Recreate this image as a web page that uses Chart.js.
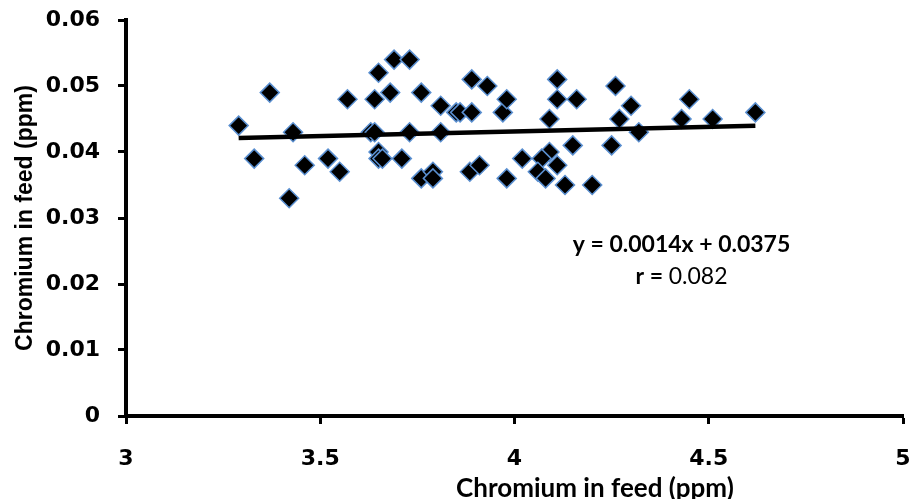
<!DOCTYPE html>
<html>
<head>
<meta charset="utf-8">
<script src="https://cdn.jsdelivr.net/npm/chart.js@4/dist/chart.umd.min.js"></script>
<style>
  html, body { margin: 0; padding: 0; background: #fff; }
  #wrap { width: 914px; height: 499px; }
</style>
</head>
<body>
<div id="wrap"><canvas id="chart"></canvas></div>
<script>
// values
const xValues = [3.29, 3.33, 3.37, 3.42, 3.43, 3.46, 3.52, 3.55, 3.57, 3.63,
    3.64, 3.64, 3.65, 3.65, 3.65, 3.66, 3.68, 3.69, 3.71, 3.73,
    3.73, 3.76, 3.76, 3.79, 3.79, 3.81, 3.81, 3.85, 3.86, 3.89,
    3.89, 3.885, 3.91, 3.93, 3.97, 3.98, 3.98, 4.02, 4.09, 4.07,
    4.06, 4.08, 4.11, 4.09, 4.11, 4.11, 4.15, 4.13, 4.16, 4.20,
    4.25, 4.26, 4.27, 4.30, 4.32, 4.43, 4.45, 4.51, 4.62];
const yValues = [0.044, 0.039, 0.049, 0.033, 0.043, 0.038, 0.039, 0.037, 0.048, 0.043,
    0.043, 0.048, 0.052, 0.040, 0.039, 0.039, 0.049, 0.054, 0.039, 0.054,
    0.043, 0.049, 0.036, 0.037, 0.036, 0.047, 0.043, 0.046, 0.046, 0.046,
    0.051, 0.037, 0.038, 0.050, 0.046, 0.048, 0.036, 0.039, 0.040, 0.039,
    0.037, 0.036, 0.038, 0.045, 0.051, 0.048, 0.041, 0.035, 0.048, 0.035,
    0.041, 0.050, 0.045, 0.047, 0.043, 0.045, 0.048, 0.045, 0.046];
const slope = 0.0014;
const intercept = 0.0375;
const rValue = '0.082';
const xTicks = [3, 3.5, 4, 4.5, 5];
const yTicks = [0, 0.01, 0.02, 0.03, 0.04, 0.05, 0.06];
const axisTitle = 'Chromium in feed (ppm)';

const points = xValues.map((x, i) => ({ x: x, y: yValues[i] }));
const xMin = Math.min(...xValues);
const xMax = Math.max(...xValues);
const trend = [xMin, xMax].map(x => ({ x: x, y: slope * x + intercept }));

const tickFont = { family: 'DejaVu Sans', size: 22, weight: 'bold' };

// x title sits right of centre in the original, and the equation box
const extraText = {
    id: 'extraText',
    afterDraw(chart) {
        const ctx = chart.ctx;
        const xs = chart.scales.x;
        const ys = chart.scales.y;
        ctx.save();
        ctx.fillStyle = '#000';
        ctx.textBaseline = 'middle';
        ctx.textAlign = 'center';
        ctx.font = 'bold 26px Lato';
        ctx.fillText(axisTitle, xs.getPixelForValue(4.207), 489);

        ctx.font = 'bold 23px Lato';
        ctx.fillText('y = ' + slope + 'x + ' + intercept, xs.getPixelForValue(4.43), ys.getPixelForValue(0.0259));

        const bold = 'r = ';
        ctx.font = 'bold 23px Lato';
        const w1 = ctx.measureText(bold).width;
        ctx.font = '23px Lato';
        const w2 = ctx.measureText(rValue).width;
        const cx = xs.getPixelForValue(4.43);
        const cy = ys.getPixelForValue(0.0212);
        const left = cx - (w1 + w2) / 2;
        ctx.textAlign = 'left';
        ctx.font = 'bold 23px Lato';
        ctx.fillText(bold, left, cy);
        ctx.font = '23px Lato';
        ctx.fillText(rValue, left + w1, cy);
        ctx.restore();
    }
};

new Chart(document.getElementById('chart'), {
    type: 'scatter',
    data: {
        datasets: [{
            data: points,
            pointStyle: 'rectRot',
            pointRadius: 9.5,
            pointHoverRadius: 9.5,
            backgroundColor: '#000',
            borderColor: '#5a8fd0',
            borderWidth: 1.5,
            order: 2
        }, {
            type: 'line',
            data: trend,
            borderColor: '#000',
            borderWidth: 4.5,
            pointRadius: 0,
            fill: false,
            order: 1
        }]
    },
    options: {
        responsive: true,
        maintainAspectRatio: false,
        animation: false,
        layout: { padding: { top: 20, right: 0, bottom: 0, left: 0 } },
        plugins: {
            legend: { display: false },
            tooltip: { enabled: false }
        },
        scales: {
            x: {
                type: 'linear',
                min: xTicks[0],
                max: xTicks[xTicks.length - 1],
                afterBuildTicks: s => { s.ticks = xTicks.map(v => ({ value: v })); },
                afterFit: s => { s.height = 83; s.paddingLeft = 0; s.paddingRight = 0; },
                border: { color: '#000', width: 4 },
                grid: { drawOnChartArea: false, tickLength: 8, tickWidth: 3, tickColor: '#000' },
                ticks: { color: '#000', font: tickFont, padding: 22, maxRotation: 0,
                    callback: v => String(v) }
            },
            y: {
                min: yTicks[0],
                max: yTicks[yTicks.length - 1],
                afterBuildTicks: s => { s.ticks = yTicks.map(v => ({ value: v })); },
                afterFit: s => { s.width = 126; s.paddingTop = 0; s.paddingBottom = 0; },
                border: { color: '#000', width: 4 },
                grid: { drawOnChartArea: false, tickLength: 8, tickWidth: 3, tickColor: '#000' },
                ticks: { color: '#000', font: tickFont, padding: 18,
                    callback: v => v === 0 ? '0' : v.toFixed(2) },
                title: {
                    display: true,
                    text: axisTitle,
                    color: '#000',
                    font: { family: 'Liberation Sans', size: 23, weight: 'bold' },
                    padding: { top: 12, bottom: 0 }
                }
            }
        }
    },
    plugins: [extraText]
});
</script>
</body>
</html>
